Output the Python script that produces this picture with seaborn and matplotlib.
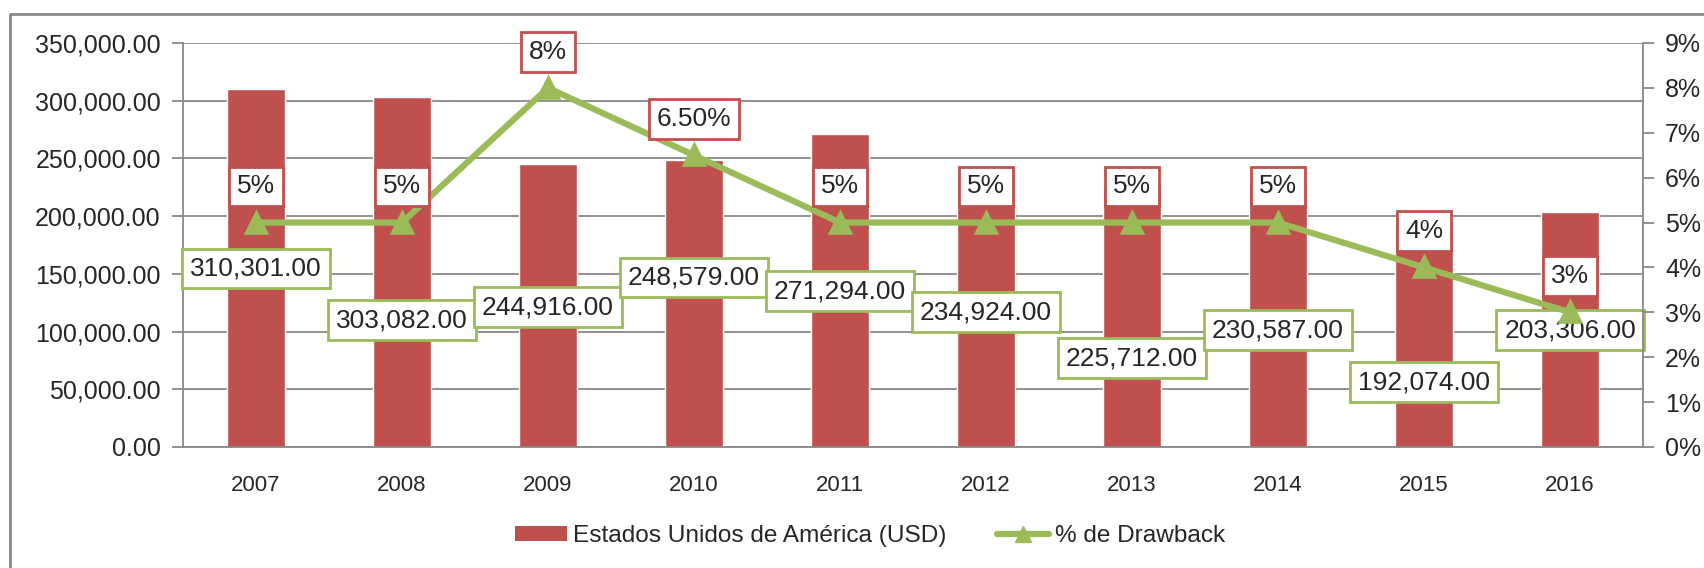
import numpy as np
import pandas as pd
import matplotlib
matplotlib.use('Agg')
import matplotlib.pyplot as plt
import matplotlib.ticker as mticker
from matplotlib import font_manager
from matplotlib.lines import Line2D
from matplotlib.patches import Patch
import seaborn as sns

# Data
years = ['2007', '2008', '2009', '2010', '2011', '2012', '2013', '2014', '2015', '2016']
usa_usd = [310301, 303082, 244916, 248579, 271294, 234924, 225712, 230587, 192074, 203306]
drawback_pct = [0.05, 0.05, 0.08, 0.065, 0.05, 0.05, 0.05, 0.05, 0.04, 0.03]
pct_labels = ['5%', '5%', '8%', '6.50%', '5%', '5%', '5%', '5%', '4%', '3%']

# Where the value boxes of the bars were dragged to (left-axis units)
bar_label_y = [154700, 109800, 121000, 146900, 134800, 116700, 76900, 101100, 56200, 101100]

BAR_RED = '#C0504D'
LINE_GREEN = '#9BBB59'
GRID_GRAY = '#888888'

sns.set_style('white')


def pick_font(name, fallback):
    try:
        font_manager.findfont(name, fallback_to_default=False)
        return name
    except Exception:
        return fallback


main_font = pick_font('Liberation Sans', 'DejaVu Sans')
plt.rcParams['font.family'] = [main_font, 'DejaVu Sans']

df = pd.DataFrame({'Year': years, 'USD': usa_usd, 'Drawback': drawback_pct})

fig = plt.figure(figsize=(17.04, 5.68), dpi=100)
ax = fig.add_axes([183 / 1704, 1 - 447 / 568, (1643 - 183) / 1704, (447 - 43) / 568])

sns.barplot(data=df, x='Year', y='USD', color=BAR_RED, saturation=1, width=0.4, ax=ax, zorder=2)
ax.set_ylim(0, 350000)
ax.set_xlim(-0.5, len(years) - 0.5)
ax.yaxis.set_major_locator(mticker.MultipleLocator(50000))
ax.yaxis.set_major_formatter(mticker.FuncFormatter(lambda v, p: f'{v:,.2f}'))
ax.grid(axis='y', color=GRID_GRAY, linewidth=1.3, zorder=0)
ax.set_axisbelow(True)
ax.set_xlabel('')
ax.set_ylabel('')

# Excel style: x ticks sit between categories
ax.set_xticks(np.arange(len(years)))
ax.set_xticklabels(years, fontsize=16)
ax.xaxis.set_minor_locator(mticker.FixedLocator(np.arange(-0.5, len(years), 1)))
ax.tick_params(axis='x', which='major', length=0, pad=20)
ax.tick_params(axis='x', which='minor', length=8, color=GRID_GRAY, width=1.3)
ax.tick_params(axis='y', length=8, color=GRID_GRAY, width=1.3, labelsize=18, pad=8, left=True)

for side in ['top', 'right']:
    ax.spines[side].set_visible(False)
for side in ['left', 'bottom']:
    ax.spines[side].set_color(GRID_GRAY)
    ax.spines[side].set_linewidth(1.3)

ax2 = ax.twinx()
sns.pointplot(data=df, x='Year', y='Drawback', color=LINE_GREEN, markers='^',
              linewidth=4.5, markersize=13, ax=ax2, zorder=4)
ax2.set_ylim(0, 0.09)
ax2.set_xlim(-0.5, len(years) - 0.5)
ax2.yaxis.set_major_locator(mticker.MultipleLocator(0.01))
ax2.yaxis.set_major_formatter(mticker.PercentFormatter(1.0, decimals=0))
ax2.set_ylabel('')
ax2.set_xlabel('')
ax2.tick_params(axis='y', length=8, color=GRID_GRAY, width=1.3, labelsize=18, pad=8, right=True)
for side in ['top', 'left', 'bottom']:
    ax2.spines[side].set_visible(False)
ax2.spines['right'].set_color(GRID_GRAY)
ax2.spines['right'].set_linewidth(1.3)

# Value boxes for the bars (green borders)
for i, (v, ly) in enumerate(zip(usa_usd, bar_label_y)):
    ax.text(i, ly, f'{v:,.2f}', ha='center', va='center', fontsize=19, zorder=6,
            bbox=dict(boxstyle='square,pad=0.3', facecolor='white', edgecolor=LINE_GREEN, linewidth=2))

# Percentage boxes above the line points (red borders)
for i, (p, lab) in enumerate(zip(drawback_pct, pct_labels)):
    ax2.annotate(lab, xy=(i, p), xytext=(0, 26), textcoords='offset points',
                 ha='center', va='center', fontsize=19, zorder=6,
                 bbox=dict(boxstyle='square,pad=0.3', facecolor='white', edgecolor=BAR_RED, linewidth=2))

handles = [Patch(facecolor=BAR_RED, edgecolor='none'),
           Line2D([0], [0], color=LINE_GREEN, linewidth=4.5, marker='^', markersize=11)]
fig.legend(handles, ['Estados Unidos de América (USD)', '% de Drawback'],
           loc='center', bbox_to_anchor=(870 / 1704, 1 - 536 / 568), ncol=2, frameon=False,
           prop={'size': 17.6}, handlelength=2.15, handleheight=0.55,
           handletextpad=0.25, columnspacing=2.05)

# Outer chart frame (top and left edges are visible in the reference)
fig.add_artist(Line2D([10 / 1704, 10 / 1704, 1], [0, 1 - 14 / 568, 1 - 14 / 568],
                      color=GRID_GRAY, linewidth=2, transform=fig.transFigure))

fig.savefig('out.png', dpi=100, facecolor='white')
